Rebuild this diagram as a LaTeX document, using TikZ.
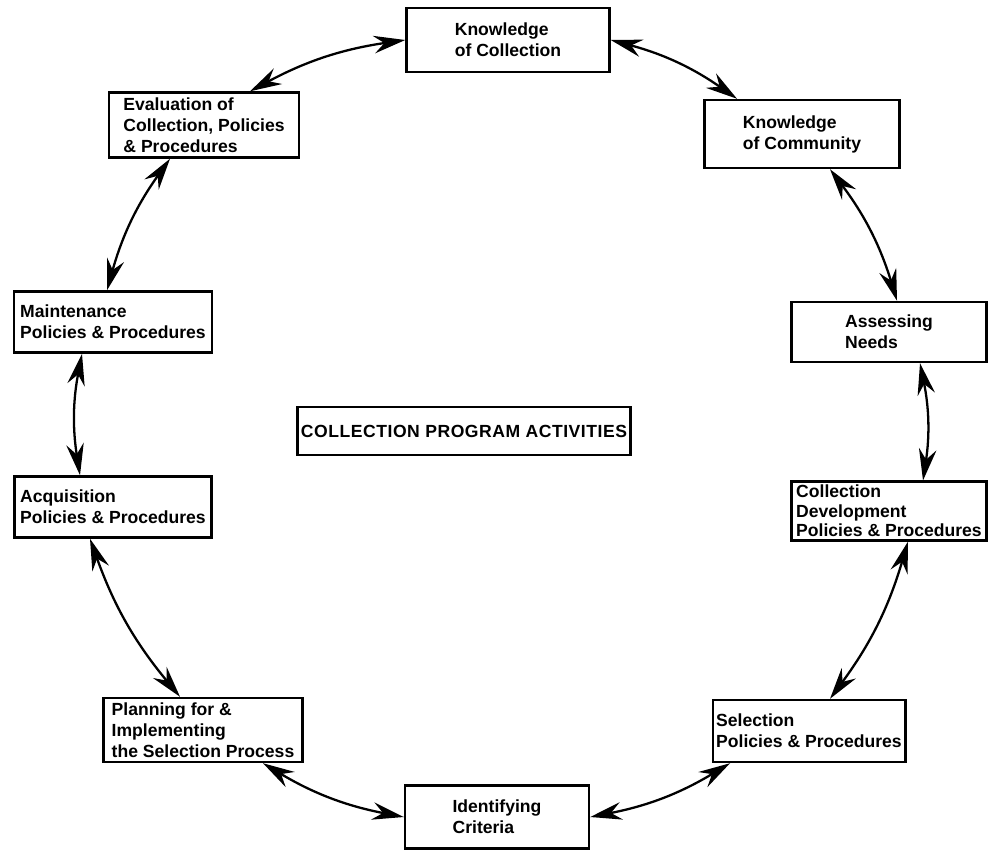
\documentclass[tikz,border=0pt]{standalone}
\usepackage{fontspec}
\setmainfont{Liberation Sans}
\usetikzlibrary{arrows.meta,positioning}
\tikzset{
  activity/.style={draw, line width=1.4pt, align=left, inner sep=2pt,
    font=\bfseries\fontsize{10}{12}\selectfont},
  link/.style={line width=1.3pt, bend left=10,
    {Stealth[length=18pt,width=10pt,inset=6pt]}-{Stealth[length=18pt,width=10pt,inset=6pt]}},
}
\begin{document}
\begin{tikzpicture}[x=0.02cm,y=-0.02cm]
\useasboundingbox (0,0) rectangle (989,852);
% activities round the circle
\path
  (508,40) node[activity, minimum width=4.06cm, minimum height=1.28cm] (know) {Knowledge\\of Collection}
  (802,134) node[activity, minimum width=3.9cm, minimum height=1.36cm] (comm) {Knowledge\\of Community}
  (889,332) node[activity, minimum width=3.9cm, minimum height=1.2cm] (assess) {Assessing\\Needs}
  (889,511) node[activity, minimum width=3.9cm, minimum height=1.1cm, font=\bfseries\fontsize{10}{11}\selectfont] (cdpol) {Collection\\Development\\Policies \& Procedures}
  (809,731) node[activity, minimum width=3.76cm, minimum height=1.24cm] (selpol) {Selection\\Policies \& Procedures}
  (497,817) node[activity, minimum width=3.68cm, minimum height=1.26cm] (crit) {Identifying\\Criteria}
  (203,730) node[activity, minimum width=3.98cm, minimum height=1.28cm] (plan) {Planning for \&\\Implementing\\the Selection Process}
  (113,507) node[activity, minimum width=3.94cm, minimum height=1.22cm] (acqpol) {Acquisition\\Policies \& Procedures}
  (113,322) node[activity, minimum width=3.96cm, minimum height=1.22cm] (maint) {Maintenance\\Policies \& Procedures}
  (204,125) node[activity, minimum width=3.8cm, minimum height=1.3cm] (evalu) {Evaluation of\\Collection, Policies\\\& Procedures}
  ;
% centre title
\node[activity, minimum width=6.5cm, minimum height=0.96cm, font=\bfseries\fontsize{10}{12}\selectfont\addfontfeature{LetterSpace=3}] (title) at (464,431) {COLLECTION PROGRAM ACTIVITIES};

\draw[link] ([xshift=0.92cm]evalu.north) to (know.west);
\draw[link] (know.east) to ([xshift=-1.3cm]comm.north);
\draw[link] ([xshift=0.56cm]comm.south) to ([xshift=0.16cm]assess.north);
\draw[link] ([xshift=0.62cm]assess.south) to ([xshift=0.68cm]cdpol.north);
\draw[link] ([xshift=0.38cm]cdpol.south) to ([xshift=0.42cm]selpol.north);
\draw[link] ([xshift=-1.58cm]selpol.south) to (crit.east);
\draw[link] (crit.west) to ([xshift=1.2cm]plan.south);
\draw[link] ([xshift=-0.46cm]plan.north) to ([xshift=-0.46cm]acqpol.south);
\draw[link] ([xshift=-0.66cm]acqpol.north) to ([xshift=-0.62cm]maint.south);
\draw[link] ([xshift=-0.12cm]maint.north) to ([xshift=-0.68cm]evalu.south);
\end{tikzpicture}
\end{document}
